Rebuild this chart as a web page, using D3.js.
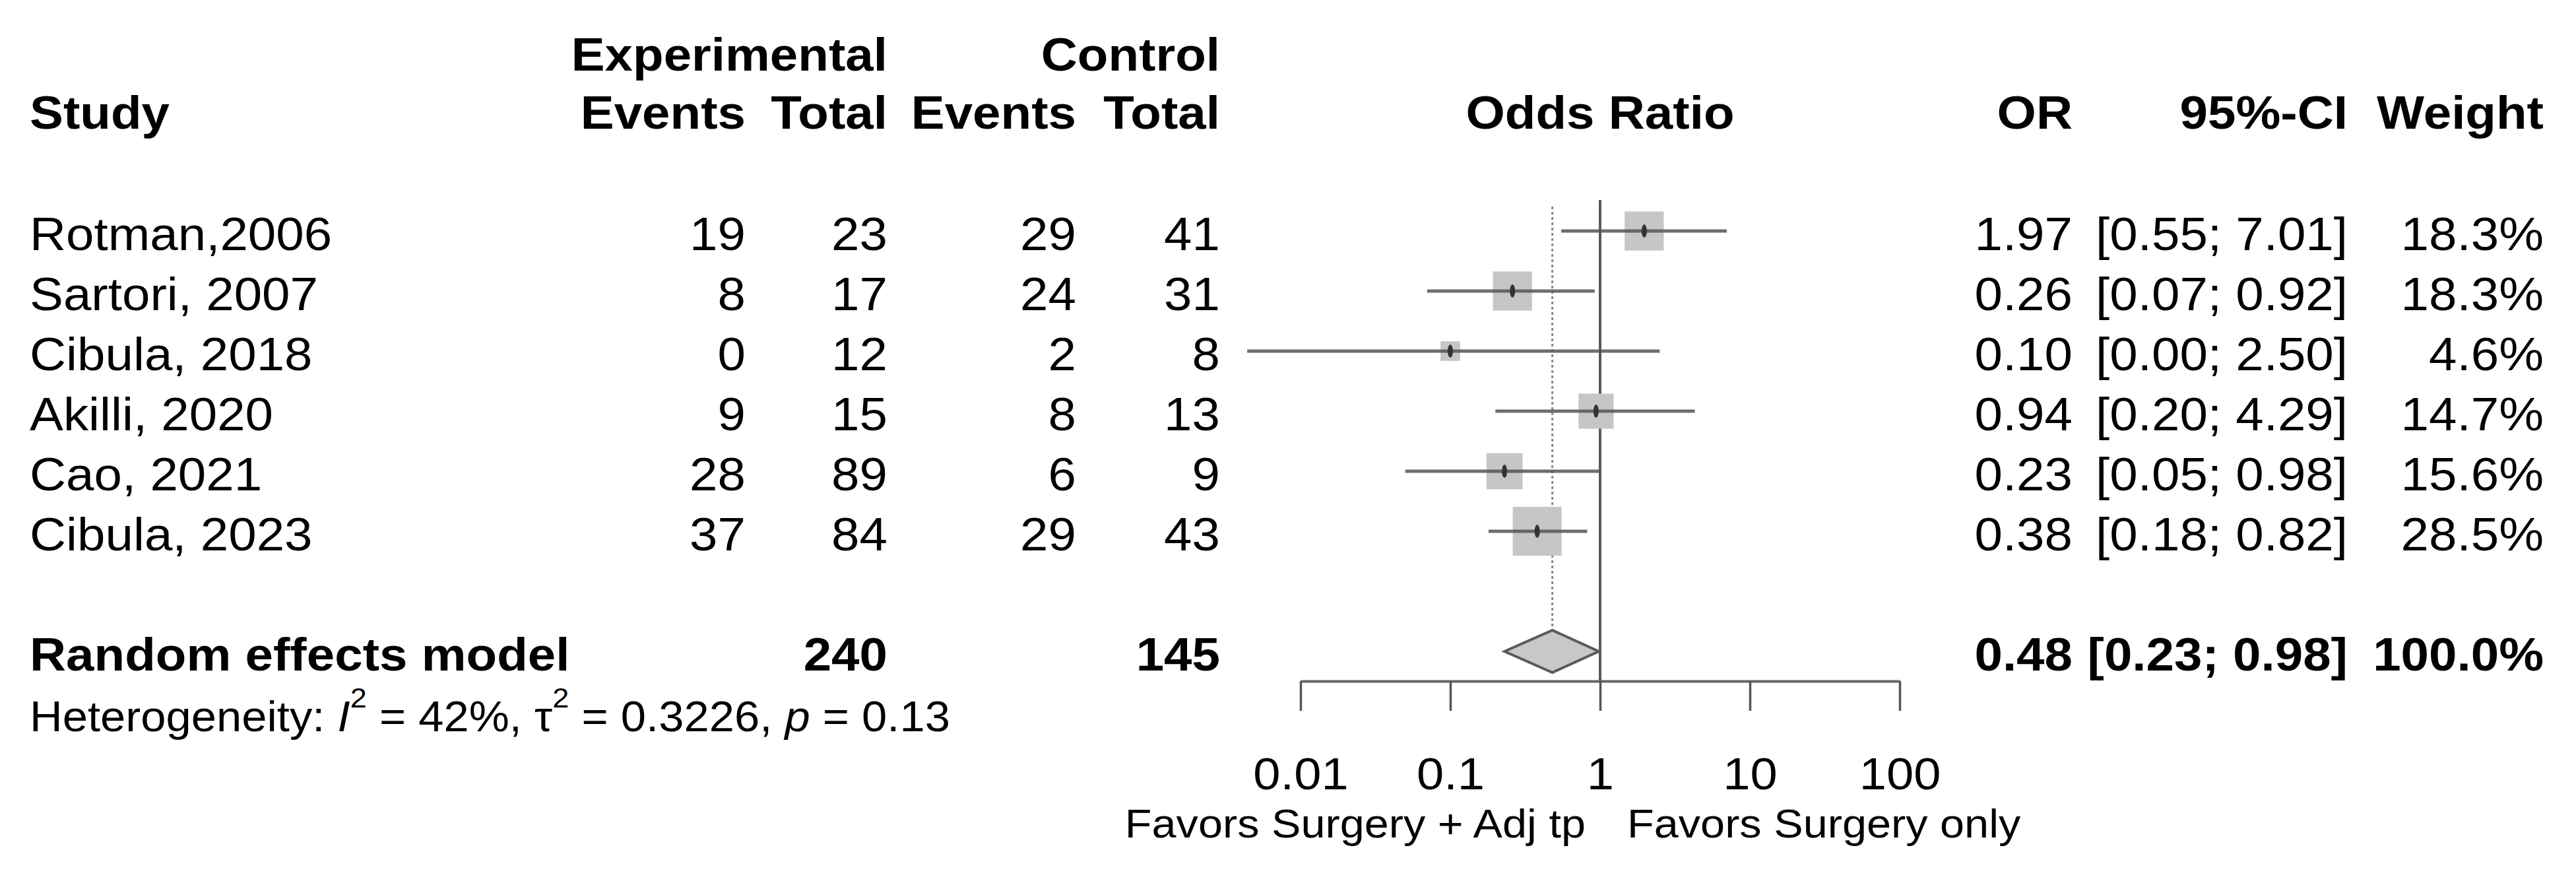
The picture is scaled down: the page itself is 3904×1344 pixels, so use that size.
<!DOCTYPE html>
<html>
<head>
<meta charset="utf-8">
<script src="https://cdn.jsdelivr.net/npm/d3@7"></script>
<style>
  body { margin: 0; background: #fff; }
  svg { display: block; font-family: "Liberation Sans", Arial, sans-serif; }
</style>
</head>
<body>
<svg id="forest" width="3904" height="1344"></svg>
<script>
// Study level data
const studies = ["Rotman,2006", "Sartori, 2007", "Cibula, 2018", "Akilli, 2020", "Cao, 2021", "Cibula, 2023"]
const expEvents = [19, 8, 0, 9, 28, 37]
const expTotal = [23, 17, 12, 15, 89, 84]
const ctrlEvents = [29, 24, 2, 8, 6, 29]
const ctrlTotal = [41, 31, 8, 13, 9, 43]
const oddsRatio = [1.97, 0.26, 0.10, 0.94, 0.23, 0.38]
const ciLower = [0.55, 0.07, 0.0044, 0.20, 0.05, 0.18]
const ciUpper = [7.01, 0.92, 2.50, 4.29, 0.98, 0.82]
const weights = [18.3, 18.3, 4.6, 14.7, 15.6, 28.5]

// Pooled estimate
const pooledLabel = "Random effects model"
const pooledTotals = [240, 145]
const pooledOR = 0.48
const pooledCI = [0.23, 0.98]
const pooledWeight = 100.0
const hetStats = { i2: "42%", tau2: "0.3226", p: "0.13" }

const tickValues = [0.01, 0.1, 1, 10, 100]
const favorsLeft = "Favors Surgery + Adj tp"
const favorsRight = "Favors Surgery only"

// Layout
const col = { study: 45, expEv: 1130, expTot: 1345, ctrlEv: 1631, ctrlTot: 1849,
              or: 3141, ci: 3558, w: 3855 }
const stretch = 1.075   // the picture is slightly wider than the font
const baseOff = 29      // baseline below row centre

const svg = d3.select("#forest")

const x = d3.scaleLog().domain([0.01, 100]).range([1971, 2879])
const y = d3.scaleLinear().domain([0, 5]).range([350, 805])
const pooledY = y(7)
const axisY = 1032
const side = d3.scaleSqrt().domain([0, 28.5]).range([0, 74])

const fmt2 = d3.format(".2f")
const fmt1 = d3.format(".1f")

function label(px, py, s, opt = {}) {
  return svg.append("text")
    .attr("transform", `translate(${px},${py}) scale(${stretch},1)`)
    .attr("text-anchor", opt.anchor || "start")
    .attr("font-size", opt.size || 71)
    .attr("font-weight", opt.weight || "normal")
    .attr("fill", "#000")
    .text(s)
}

// Header
const bold = { weight: "bold" }
label(col.expTot, 107, "Experimental", { ...bold, anchor: "end" })
label(col.ctrlTot, 107, "Control", { ...bold, anchor: "end" })
label(col.study, 195, "Study", bold)
label(col.expEv, 195, "Events", { ...bold, anchor: "end" })
label(col.expTot, 195, "Total", { ...bold, anchor: "end" })
label(col.ctrlEv, 195, "Events", { ...bold, anchor: "end" })
label(col.ctrlTot, 195, "Total", { ...bold, anchor: "end" })
label(x(1), 195, "Odds Ratio", { ...bold, anchor: "middle" })
label(col.or, 195, "OR", { ...bold, anchor: "end" })
label(col.ci, 195, "95%-CI", { ...bold, anchor: "end" })
label(col.w, 195, "Weight", { ...bold, anchor: "end" })

// Study rows text
studies.forEach((s, i) => {
  const by = y(i) + baseOff
  label(col.study, by, s)
  label(col.expEv, by, expEvents[i], { anchor: "end" })
  label(col.expTot, by, expTotal[i], { anchor: "end" })
  label(col.ctrlEv, by, ctrlEvents[i], { anchor: "end" })
  label(col.ctrlTot, by, ctrlTotal[i], { anchor: "end" })
  label(col.or, by, fmt2(oddsRatio[i]), { anchor: "end" })
  label(col.ci, by, `[${fmt2(ciLower[i])}; ${fmt2(ciUpper[i])}]`, { anchor: "end" })
  label(col.w, by, fmt1(weights[i]) + "%", { anchor: "end" })
})

// Pooled row text
const pb = pooledY + baseOff
label(col.study, pb, pooledLabel, bold)
label(col.expTot, pb, pooledTotals[0], { ...bold, anchor: "end" })
label(col.ctrlTot, pb, pooledTotals[1], { ...bold, anchor: "end" })
label(col.or, pb, fmt2(pooledOR), { ...bold, anchor: "end" })
label(col.ci, pb, `[${fmt2(pooledCI[0])}; ${fmt2(pooledCI[1])}]`, { ...bold, anchor: "end" })
label(col.w, pb, fmt1(pooledWeight) + "%", { ...bold, anchor: "end" })

// Heterogeneity line with italics and superscripts
const het = label(col.study, 1108, null, { size: 64 })
het.append("tspan").text("Heterogeneity: ")
het.append("tspan").attr("font-style", "italic").text("I")
het.append("tspan").attr("font-size", 42).attr("dy", -36).text("2")
het.append("tspan").attr("dy", 36).text(` = ${hetStats.i2}, \u03c4`)
het.append("tspan").attr("font-size", 42).attr("dy", -36).text("2")
het.append("tspan").attr("dy", 36).text(` = ${hetStats.tau2}, `)
het.append("tspan").attr("font-style", "italic").text("p")
het.append("tspan").text(` = ${hetStats.p}`)

// Reference lines
svg.append("line")
  .attr("x1", x(1)).attr("x2", x(1))
  .attr("y1", 303).attr("y2", axisY)
  .attr("stroke", "#5a5a5a").attr("stroke-width", 4)

svg.append("line")
  .attr("x1", x(pooledOR)).attr("x2", x(pooledOR))
  .attr("y1", 313).attr("y2", pooledY - 33)
  .attr("stroke", "#888").attr("stroke-width", 3)
  .attr("stroke-dasharray", "4,4")

// Squares, then CI lines on top
const rows = d3.range(studies.length)
svg.selectAll("rect.study")
  .data(rows)
  .enter()
  .append("rect")
  .attr("class", "study")
  .attr("x", i => x(oddsRatio[i]) - side(weights[i]) / 2)
  .attr("y", i => y(i) - side(weights[i]) / 2)
  .attr("width", i => side(weights[i]))
  .attr("height", i => side(weights[i]))
  .attr("fill", "#c6c6c6")

svg.selectAll("line.ci")
  .data(rows)
  .enter()
  .append("line")
  .attr("class", "ci")
  .attr("x1", i => x(ciLower[i]))
  .attr("x2", i => x(ciUpper[i]))
  .attr("y1", i => y(i))
  .attr("y2", i => y(i))
  .attr("stroke", "#555")
  .attr("stroke-opacity", 0.85)
  .attr("stroke-width", 5)

svg.selectAll("ellipse.pt")
  .data(rows)
  .enter()
  .append("ellipse")
  .attr("class", "pt")
  .attr("cx", i => x(oddsRatio[i]))
  .attr("cy", i => y(i))
  .attr("rx", 4)
  .attr("ry", 10)
  .attr("fill", "#333")

// Diamond for pooled effect
const dh = 32
svg.append("path")
  .attr("d", `M${x(pooledCI[0])},${pooledY} L${x(pooledOR)},${pooledY - dh} ` +
             `L${x(pooledCI[1])},${pooledY} L${x(pooledOR)},${pooledY + dh} Z`)
  .attr("fill", "#c8c8c8")
  .attr("stroke", "#5a5a5a")
  .attr("stroke-width", 4)

// Axis
const axis = svg.append("g")
  .attr("transform", `translate(0,${axisY})`)
  .call(d3.axisBottom(x)
    .tickValues(tickValues)
    .tickSize(45)
    .tickSizeOuter(0)
    .tickFormat(d => String(d)))

axis.select(".domain").attr("stroke", "#666").attr("stroke-width", 4)
axis.selectAll(".tick line").attr("stroke", "#555").attr("stroke-width", 3.5)
axis.selectAll(".tick text")
  .attr("y", 164).attr("dy", 0)
  .attr("font-size", 69)
  .attr("font-family", "Liberation Sans, Arial, sans-serif")
  .attr("fill", "#000")
  .attr("transform", `scale(${stretch},1)`)

label(x(1) - 22, 1269, favorsLeft, { anchor: "end", size: 62 })
label(x(1) + 41, 1269, favorsRight, { size: 62 })
</script>
</body>
</html>
